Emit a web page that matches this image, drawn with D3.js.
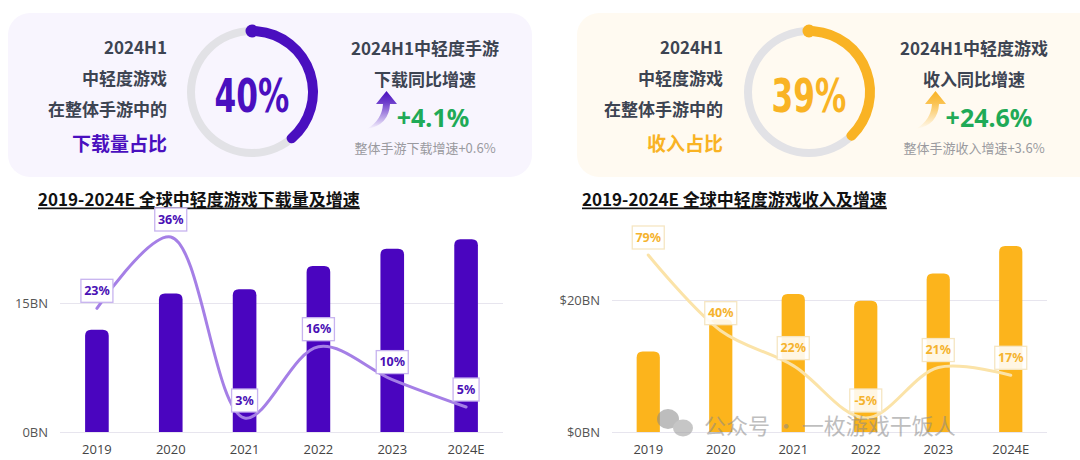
<!DOCTYPE html>
<html>
<head>
<meta charset="utf-8">
<script src="https://cdn.jsdelivr.net/npm/d3@7"></script>
<style>
  body { margin: 0; background: #fff; }
  svg { display: block; font-family: "Noto Sans CJK SC", "Noto Sans", sans-serif; }
</style>
</head>
<body>
<div id="chart-area"></div>
<script>
// data
var years = ["2019", "2020", "2021", "2022", "2023", "2024E"];
var downloads = [11.9, 16.1, 16.6, 19.3, 21.3, 22.4];      // BN
var downloadGrowth = [23, 36, 3, 16, 10, 5];               // %
var revenue = [12.2, 17.1, 20.9, 19.9, 24.0, 28.2];        // $BN
var revenueGrowth = [79, 40, 22, -5, 21, 17];              // %
var downloadTicks = [0, 15];
var revenueTicks = [0, 20];

var cards = [
    { x: 8, w: 524, ring: 252, textR: 167, midX: 425, valDx: 8,
      bg: "#f8f5fe", color: "#4a0fbf",
      share: 40, left: ["2024H1", "中轻度游戏", "在整体手游中的"], key: "下载量占比",
      right: ["2024H1中轻度手游", "下载同比增速"], growth: "+4.1%", note: "整体手游下载增速+0.6%" },
    { x: 577, w: 540, ring: 809, textR: 723, midX: 974, valDx: 15,
      bg: "#fffaf1", color: "#f9b324",
      share: 39, left: ["2024H1", "中轻度游戏", "在整体手游中的"], key: "收入占比",
      right: ["2024H1中轻度游戏", "收入同比增速"], growth: "+24.6%", note: "整体手游收入增速+3.6%" }
];

var svg = d3.select("#chart-area")
    .append("svg")
    .attr("width", 1080)
    .attr("height", 460);

var defs = svg.append("defs");

// ---- top cards ----
cards.forEach(function(c, i) {
    var g = svg.append("g");

    g.append("rect")
        .attr("x", c.x).attr("y", 13)
        .attr("width", c.w).attr("height", 164)
        .attr("rx", 22)
        .attr("fill", c.bg);

    c.left.forEach(function(t, k) {
        g.append("text")
            .attr("x", c.textR).attr("y", 46 + k * 31)
            .attr("text-anchor", "end").attr("dominant-baseline", "central")
            .attr("font-size", "17px").attr("font-weight", "bold")
            .attr("fill", "#3d4452")
            .text(t);
    });
    g.append("text")
        .attr("x", c.textR).attr("y", 142)
        .attr("text-anchor", "end").attr("dominant-baseline", "central")
        .attr("font-size", "19px").attr("font-weight", "bold")
        .attr("fill", c.color)
        .text(c.key);

    // ring
    var arc = d3.arc().innerRadius(56).outerRadius(66).cornerRadius(5);
    var ring = g.append("g").attr("transform", "translate(" + c.ring + ",92)");
    ring.append("path")
        .attr("d", d3.arc().innerRadius(57).outerRadius(65)({ startAngle: 0, endAngle: 2 * Math.PI }))
        .attr("fill", "#e2e2e6");
    ring.append("path")
        .attr("d", arc({ startAngle: 0, endAngle: 2 * Math.PI * c.share / 100 }))
        .attr("fill", c.color);
    ring.append("circle")
        .attr("cx", 0).attr("cy", -61).attr("r", 6.5)
        .attr("fill", c.color);
    ring.append("text")
        .attr("transform", "translate(0,4) scale(0.68,1)")
        .attr("text-anchor", "middle").attr("dominant-baseline", "central")
        .attr("font-family", "'DejaVu Sans', sans-serif")
        .attr("font-size", "46px").attr("font-weight", "bold")
        .attr("fill", c.color)
        .text(c.share + "%");

    c.right.forEach(function(t, k) {
        g.append("text")
            .attr("x", c.midX).attr("y", 47 + k * 31)
            .attr("text-anchor", "middle").attr("dominant-baseline", "central")
            .attr("font-size", "17px").attr("font-weight", "bold")
            .attr("fill", "#3d4452")
            .text(t);
    });

    // arrow
    var grad = defs.append("linearGradient")
        .attr("id", "arrow" + i)
        .attr("x1", 0).attr("y1", 1).attr("x2", 0).attr("y2", 0);
    grad.append("stop").attr("offset", "0%").attr("stop-color", c.color).attr("stop-opacity", 0);
    grad.append("stop").attr("offset", "70%").attr("stop-color", c.color).attr("stop-opacity", 0.8);
    grad.append("stop").attr("offset", "100%").attr("stop-color", c.color).attr("stop-opacity", 1);
    var ax = c.midX - 58;
    g.append("path")
        .attr("d", "M" + ax + ",129 Q" + (ax + 15) + ",120 " + (ax + 16) + ",104 L" + (ax + 9) + ",104 L" + (ax + 19.5) + ",91 L" + (ax + 30) + ",104 L" + (ax + 23) + ",104 Q" + (ax + 22) + ",125 " + ax + ",129 Z")
        .attr("fill", "url(#arrow" + i + ")");

    g.append("text")
        .attr("x", c.midX + c.valDx).attr("y", 117)
        .attr("text-anchor", "middle").attr("dominant-baseline", "central")
        .attr("font-family", "'Noto Sans', sans-serif")
        .attr("font-size", "25px").attr("font-weight", "bold")
        .attr("fill", "#1faa57")
        .text(c.growth);
    g.append("text")
        .attr("x", c.midX).attr("y", 147)
        .attr("text-anchor", "middle").attr("dominant-baseline", "central")
        .attr("font-size", "13px")
        .attr("fill", "#9a9a9f")
        .text(c.note);
});

// ---- bar + line charts ----
function drawChart(opt) {
    var g = svg.append("g");

    g.append("text")
        .attr("x", opt.titleX).attr("y", 198)
        .attr("dominant-baseline", "central")
        .attr("font-size", "17px").attr("font-weight", "bold")
        .attr("fill", "#111")
        .attr("text-decoration", "underline")
        .text(opt.title);

    var x = d3.scaleBand()
        .domain(years)
        .range(opt.xRange)
        .paddingInner(0.68)
        .paddingOuter(0.34);

    var y = d3.scaleLinear().domain([0, opt.tickTop]).range([432, opt.tickTopY]);
    var yg = d3.scaleLinear().domain(opt.gDomain).range(opt.gRange);

    // grid + y labels
    var yAxis = d3.axisLeft(y)
        .tickValues(opt.ticks)
        .tickSize(-(opt.xRange[1] - opt.xRange[0]))
        .tickPadding(12)
        .tickFormat(opt.fmt);
    var ya = g.append("g")
        .attr("transform", "translate(" + opt.xRange[0] + ",0)")
        .call(yAxis);
    ya.select(".domain").remove();
    ya.selectAll("line").attr("stroke", "#e7e5ee").attr("stroke-width", 1.2);
    ya.selectAll("text")
        .attr("font-family", "'Open Sans', 'Noto Sans', sans-serif")
        .attr("font-size", "13px").attr("fill", "#555");

    // x labels
    var xa = g.append("g")
        .attr("transform", "translate(0,432)")
        .call(d3.axisBottom(x).tickSize(0).tickPadding(13));
    xa.select(".domain").remove();
    xa.selectAll("text")
        .attr("font-family", "'Open Sans', 'Noto Sans', sans-serif")
        .attr("font-size", "13px").attr("fill", "#444");

    // bars, rounded top
    var bw = x.bandwidth(), r = 6;
    g.selectAll(".bar")
        .data(opt.bars)
        .enter().append("path")
        .attr("class", "bar")
        .attr("fill", opt.barColor)
        .attr("d", function(d, i) {
            var x0 = x(years[i]), yt = y(d), yb = y(0);
            return "M" + x0 + "," + yb +
                "L" + x0 + "," + (yt + r) +
                "Q" + x0 + "," + yt + " " + (x0 + r) + "," + yt +
                "L" + (x0 + bw - r) + "," + yt +
                "Q" + (x0 + bw) + "," + yt + " " + (x0 + bw) + "," + (yt + r) +
                "L" + (x0 + bw) + "," + yb + "Z";
        });

    // growth line
    var line = d3.line()
        .x(function(d, i) { return x(years[i]) + bw / 2; })
        .y(function(d) { return yg(d); })
        .curve(d3.curveCatmullRom.alpha(0.5));
    g.append("path")
        .datum(opt.growth)
        .attr("fill", "none")
        .attr("stroke", opt.lineColor)
        .attr("stroke-width", 3)
        .attr("stroke-linecap", "round")
        .attr("d", line);

    // labels
    var lab = g.selectAll(".lab")
        .data(opt.growth)
        .enter().append("g")
        .attr("class", "lab")
        .attr("transform", function(d, i) {
            return "translate(" + (x(years[i]) + bw / 2) + "," + (yg(d) - 18) + ")";
        });
    lab.append("rect")
        .attr("x", function(d) { return String(d).length > 1 ? -16 : -13; })
        .attr("width", function(d) { return String(d).length > 1 ? 32 : 26; })
        .attr("y", -11).attr("height", 23)
        .attr("fill", "#fff").attr("fill-opacity", opt.boxOpacity)
        .attr("stroke", opt.boxStroke).attr("stroke-width", 1.3);
    lab.append("text")
        .attr("text-anchor", "middle").attr("dominant-baseline", "central")
        .attr("font-family", "'Noto Sans', sans-serif")
        .attr("font-size", "12.5px").attr("font-weight", "bold")
        .attr("fill", opt.labelColor)
        .text(function(d) { return d + "%"; });
}

drawChart({
    title: "2019-2024E 全球中轻度游戏下载量及增速",
    titleX: 38,
    xRange: [60, 503],
    bars: downloads, ticks: downloadTicks, tickTop: 15, tickTopY: 303,
    fmt: function(d) { return d + "BN"; },
    growth: downloadGrowth, gDomain: [3, 36], gRange: [418, 237],
    barColor: "#4a05bf", lineColor: "#a57fe6",
    boxStroke: "#c7b3ef", boxOpacity: 1, labelColor: "#4a10b5"
});

drawChart({
    title: "2019-2024E 全球中轻度游戏收入及增速",
    titleX: 582,
    xRange: [612, 1047],
    bars: revenue, ticks: revenueTicks, tickTop: 20, tickTopY: 300,
    fmt: function(d) { return "$" + d + "BN"; },
    growth: revenueGrowth, gDomain: [-5, 79], gRange: [418, 255],
    barColor: "#fcb41c", lineColor: "#fbe3a8",
    boxStroke: "#f6e6c2", boxOpacity: 0.88, labelColor: "#f5b32e"
});

// watermark
var wm = svg.append("g").attr("opacity", 0.55);
wm.append("ellipse").attr("cx", 668).attr("cy", 419).attr("rx", 11).attr("ry", 10).attr("fill", "#888");
wm.append("ellipse").attr("cx", 683).attr("cy", 428).attr("rx", 10).attr("ry", 8.5).attr("fill", "#999");
wm.append("text")
    .attr("x", 704).attr("y", 424)
    .attr("dominant-baseline", "central")
    .attr("font-size", "22px")
    .attr("fill", "#8a8a8a")
    .text("公众号 · 一枚游戏干饭人");
</script>
</body>
</html>
